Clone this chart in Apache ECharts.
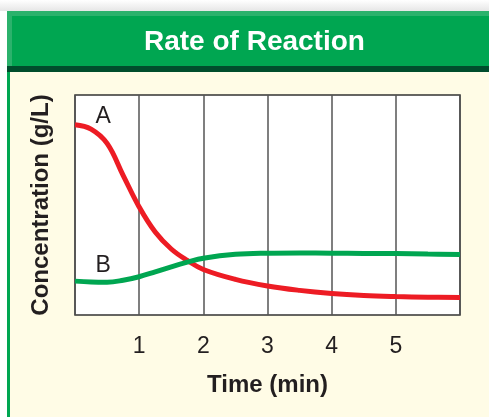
<!DOCTYPE html>
<html>
<head>
<meta charset="utf-8">
<title>Rate of Reaction</title>
<script src="https://cdn.jsdelivr.net/npm/echarts@6/dist/echarts.min.js"></script>
<style>
  html, body { margin: 0; padding: 0; background: #fff; }
  #chart { width: 489px; height: 417px; }
</style>
</head>
<body>
<div id="chart"></div>
<script>
// time in minutes, concentration in arbitrary units (0-10 scale of the plot)
var times = [0, 0.25, 0.5, 0.75, 1, 1.25, 1.5, 1.75, 2, 2.5, 3, 3.5, 4, 4.5, 5, 5.5, 6];
var concA = [8.65, 8.45, 7.8, 6.35, 4.91, 3.77, 3.0, 2.48, 2.07, 1.62, 1.32, 1.12, 0.98, 0.89, 0.84, 0.81, 0.80];
var concB = [1.54, 1.50, 1.49, 1.58, 1.74, 1.96, 2.19, 2.40, 2.58, 2.76, 2.81, 2.82, 2.81, 2.80, 2.79, 2.77, 2.75];
var tickLabels = ['1', '2', '3', '4', '5'];
var labelA = [0.44, 9.02];
var labelB = [0.44, 2.24];

var font = '"Liberation Sans", Arial, sans-serif';

function pairs(xs, ys) {
    var out = [];
    for (var i = 0; i < xs.length; i++) out.push([xs[i], ys[i]]);
    return out;
}

var chart = echarts.init(document.getElementById('chart'));

var option = {
    animation: false,
    backgroundColor: '#ffffff',
    title: {
        text: 'Rate of Reaction',
        left: 144,
        top: 28,
        padding: 0,
        textStyle: { color: '#ffffff', fontSize: 28, fontWeight: 'bold', fontFamily: font }
    },
    graphic: [
        // page shadow above the box
        { type: 'rect', z: -10, shape: { x: 0, y: 0, width: 489, height: 11 },
          style: { fill: new echarts.graphic.LinearGradient(0, 0, 0, 1, [
              { offset: 0, color: '#ffffff' }, { offset: 1, color: '#e6e6e6' }]) } },
        // cream panel
        { type: 'rect', z: -10, shape: { x: 7, y: 66, width: 482, height: 351 }, style: { fill: '#fffce6' } },
        // green left border
        { type: 'rect', z: -9, shape: { x: 7, y: 66, width: 3, height: 351 }, style: { fill: '#00a651' } },
        // header band
        { type: 'rect', z: -10, shape: { x: 7, y: 11, width: 482, height: 55 }, style: { fill: '#00a651' } },
        { type: 'rect', z: -9, shape: { x: 7, y: 11, width: 482, height: 5 }, style: { fill: '#2bb26c' } },
        { type: 'rect', z: -9, shape: { x: 7, y: 11, width: 5, height: 55 }, style: { fill: '#2bb26c' } },
        { type: 'rect', z: -9, shape: { x: 7, y: 66, width: 482, height: 6 }, style: { fill: '#004d2c' } }
    ],
    grid: {
        left: 75, top: 95, width: 385, height: 220,
        show: true, backgroundColor: '#ffffff', borderColor: '#333333', borderWidth: 1.5
    },
    xAxis: {
        type: 'value', min: 0, max: 6, interval: 1,
        name: 'Time (min)', nameLocation: 'middle', nameGap: 58,
        nameTextStyle: { color: '#231f20', fontSize: 24, fontWeight: 'bold', fontFamily: font },
        axisLine: { show: false },
        axisTick: { show: false },
        splitLine: { show: true, lineStyle: { color: '#555555', width: 1.5 } },
        axisLabel: {
            margin: 20, color: '#231f20', fontSize: 23, fontFamily: font,
            formatter: function (v) { return (v >= 1 && v <= 5) ? tickLabels[v - 1] : ''; }
        }
    },
    yAxis: {
        type: 'value', min: 0, max: 10,
        name: 'Concentration (g/L)', nameLocation: 'middle', nameGap: 22, nameRotate: 90,
        nameTextStyle: { color: '#231f20', fontSize: 24, fontWeight: 'bold', fontFamily: font },
        axisLine: { show: false },
        axisTick: { show: false },
        axisLabel: { show: false },
        splitLine: { show: false }
    },
    series: [
        {
            name: 'A', type: 'line', smooth: 0.4, showSymbol: false,
            data: pairs(times, concA),
            lineStyle: { color: '#ed1c24', width: 5 },
            markPoint: {
                symbol: 'circle', symbolSize: 0, silent: true,
                label: { show: true, formatter: 'A', color: '#231f20', fontSize: 23, fontFamily: font },
                data: [{ coord: labelA }]
            }
        },
        {
            name: 'B', type: 'line', smooth: 0.4, showSymbol: false,
            data: pairs(times, concB),
            lineStyle: { color: '#00a651', width: 5 },
            markPoint: {
                symbol: 'circle', symbolSize: 0, silent: true,
                label: { show: true, formatter: 'B', color: '#231f20', fontSize: 23, fontFamily: font },
                data: [{ coord: labelB }]
            }
        }
    ]
};

chart.setOption(option);
</script>
</body>
</html>
